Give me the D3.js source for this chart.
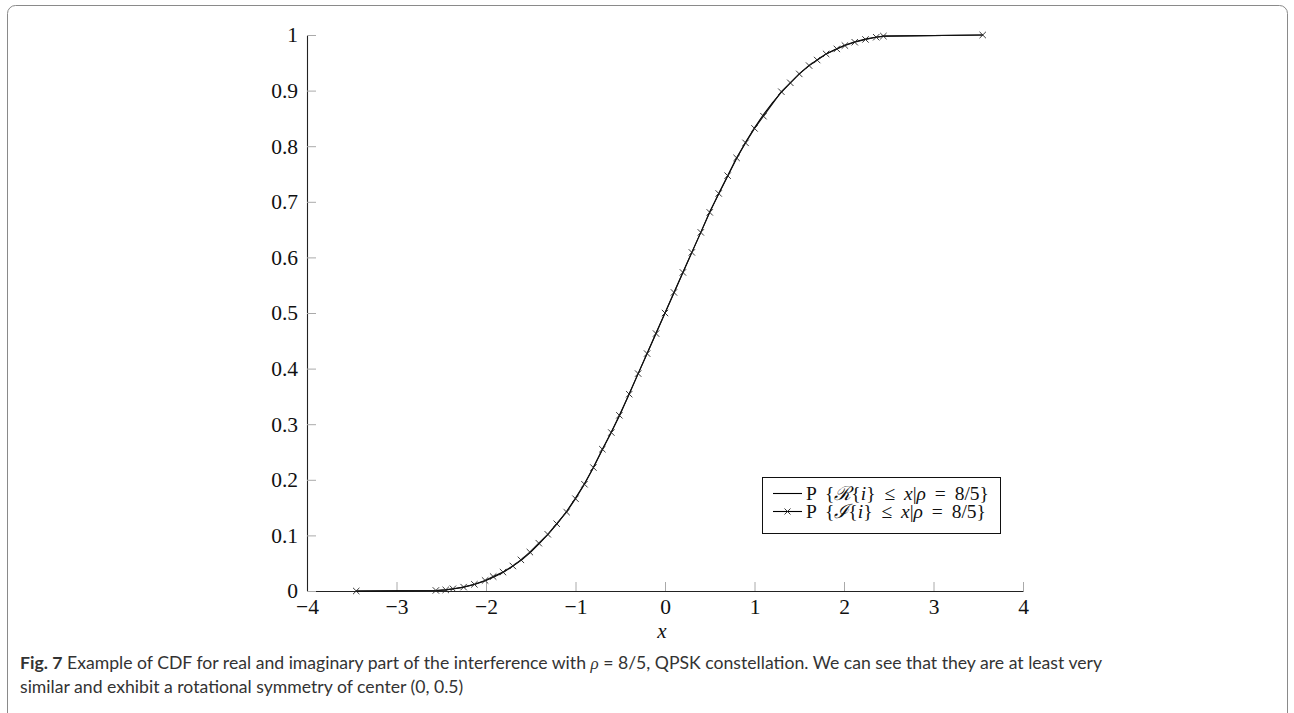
<!DOCTYPE html>
<html>
<head>
<meta charset="utf-8">
<script src="https://cdn.jsdelivr.net/npm/d3@7/dist/d3.min.js"></script>
<style>
  html, body { margin: 0; padding: 0; background: #fff; }
  svg { display: block; }
</style>
</head>
<body>
<svg id="chart" width="1294" height="713"></svg>
<script>
// ---------- data ----------
const xTicks = [-4, -3, -2, -1, 0, 1, 2, 3, 4];
const yTicks = [0, 0.1, 0.2, 0.3, 0.4, 0.5, 0.6, 0.7, 0.8, 0.9, 1];

// Imaginary part (line with × markers)
const imagX = [-3.45, -2.56, -2.45, -2.37, -2.25, -2.13, -2.01, -1.92, -1.81, -1.70, -1.61, -1.51, -1.41, -1.31, -1.21,
  -1.10, -1.00, -0.90, -0.80, -0.70, -0.60, -0.51, -0.40, -0.30, -0.20, -0.10, 0.00, 0.10, 0.20, 0.30, 0.40,
  0.50, 0.60, 0.70, 0.80, 0.90, 1.00, 1.10, 1.30, 1.40, 1.50, 1.61, 1.70, 1.80, 1.92, 2.01, 2.12, 2.24, 2.36, 2.44, 3.55];
const imagY = [0.000, 0.001, 0.002, 0.004, 0.007, 0.012, 0.019, 0.026, 0.034, 0.045, 0.056, 0.070, 0.086, 0.102, 0.121,
  0.142, 0.166, 0.192, 0.222, 0.255, 0.285, 0.316, 0.354, 0.391, 0.427, 0.463, 0.500, 0.537, 0.573, 0.609, 0.645,
  0.681, 0.715, 0.747, 0.779, 0.806, 0.832, 0.854, 0.898, 0.914, 0.930, 0.945, 0.955, 0.966, 0.975, 0.981, 0.987, 0.992, 0.996, 0.998, 1.000];

// Real part (plain line)
const realX = [-3.45, -2.55, -2.45, -2.35, -2.25, -2.12, -2.00, -1.90, -1.80, -1.70, -1.60, -1.50, -1.40, -1.30, -1.20,
  -1.10, -1.00, -0.90, -0.80, -0.70, -0.60, -0.50, -0.40, -0.30, -0.20, -0.10, 0.00, 0.10, 0.20, 0.30, 0.40,
  0.50, 0.60, 0.70, 0.80, 0.90, 1.00, 1.10, 1.20, 1.30, 1.40, 1.50, 1.60, 1.70, 1.80, 1.90, 2.00, 2.12, 2.25, 2.35, 2.45, 3.55];
const realY = [0.000, 0.001, 0.002, 0.004, 0.007, 0.012, 0.019, 0.026, 0.034, 0.045, 0.056, 0.070, 0.086, 0.103, 0.122,
  0.143, 0.167, 0.193, 0.222, 0.254, 0.286, 0.318, 0.355, 0.391, 0.427, 0.464, 0.500, 0.536, 0.573, 0.609, 0.645,
  0.682, 0.714, 0.746, 0.778, 0.807, 0.833, 0.857, 0.878, 0.897, 0.914, 0.930, 0.944, 0.955, 0.966, 0.974, 0.981, 0.988, 0.993, 0.996, 0.998, 1.000];

// ---------- layout ----------
const svg = d3.select("#chart");
const plotL = 307, plotR = 1023, plotT = 35, plotB = 591;

// frame
svg.append("rect")
  .attr("x", 7.5).attr("y", 5.5).attr("width", 1280).attr("height", 740)
  .attr("rx", 8).attr("ry", 8)
  .attr("fill", "none").attr("stroke", "#8a8a8a").attr("stroke-width", 1);

const xs = d3.scaleLinear().domain([-4, 4]).range([plotL, plotR]);
const ys = d3.scaleLinear().domain([0, 1]).range([plotB, plotT]);

const serif = "'Liberation Serif', 'DejaVu Serif', serif";

// x axis
const gx = svg.append("g").attr("transform", `translate(0,${plotB})`)
  .call(d3.axisBottom(xs).tickValues(xTicks).tickSize(-9).tickSizeOuter(0).tickPadding(8)
    .tickFormat(d3.format("d")));
// y axis
const gy = svg.append("g").attr("transform", `translate(${plotL},0)`)
  .call(d3.axisLeft(ys).tickValues(yTicks).tickSize(-9).tickSizeOuter(0).tickPadding(9)
    .tickFormat(d => d === 0 ? "0" : d === 1 ? "1" : d3.format(".1f")(d)));

[gx, gy].forEach(g => {
  g.select(".domain").attr("stroke", "#222").attr("stroke-width", 1.1);
  g.selectAll(".tick line").attr("stroke", "#aaa").attr("stroke-width", 1);
  g.selectAll(".tick text").attr("font-family", serif).attr("font-size", 21.5).attr("fill", "#111");
});

// x label
svg.append("text").attr("x", 662).attr("y", 638).attr("text-anchor", "middle")
  .attr("font-family", serif).attr("font-style", "italic").attr("font-size", 21).attr("fill", "#111").text("x");

// lines
const line = d3.line().x(d => xs(d[0])).y(d => ys(d[1]));
const realData = realX.map((v, i) => [v, realY[i]]);
const imagData = imagX.map((v, i) => [v, imagY[i]]);

svg.append("path").datum(realData).attr("d", line)
  .attr("fill", "none").attr("stroke", "#000").attr("stroke-width", 1.1);
svg.append("path").datum(imagData).attr("d", line)
  .attr("fill", "none").attr("stroke", "#111").attr("stroke-width", 1.1);

const cross = (g, cx, cy, s) => {
  g.append("path")
    .attr("d", `M${cx - s},${cy - s}L${cx + s},${cy + s}M${cx - s},${cy + s}L${cx + s},${cy - s}`)
    .attr("stroke", "#222").attr("stroke-width", 0.9).attr("fill", "none");
};
const gm = svg.append("g");
imagData.forEach(d => cross(gm, xs(d[0]), ys(d[1]), 3.2));

// legend
const lg = svg.append("g");
lg.append("rect").attr("x", 762.5).attr("y", 477.5).attr("width", 238).attr("height", 56)
  .attr("fill", "#fff").attr("stroke", "#111").attr("stroke-width", 1);
lg.append("line").attr("x1", 773).attr("x2", 802).attr("y1", 493.5).attr("y2", 493.5)
  .attr("stroke", "#000").attr("stroke-width", 1.1);
lg.append("line").attr("x1", 773).attr("x2", 802).attr("y1", 511.5).attr("y2", 511.5)
  .attr("stroke", "#000").attr("stroke-width", 1.1);
cross(lg, 787.5, 511.5, 3);

function legendText(yy, letter) {
  const t = lg.append("text").attr("x", 806).attr("y", yy)
    .attr("font-family", serif).attr("font-size", 19.5).attr("fill", "#111")
    .style("white-space", "pre");
  t.append("tspan").text("P {");
  t.append("tspan").attr("font-style", "italic").text(letter);
  t.append("tspan").text("{");
  t.append("tspan").attr("font-style", "italic").text("i");
  t.append("tspan").text("} ≤ ");
  t.append("tspan").attr("font-style", "italic").text("x");
  t.append("tspan").text("|");
  t.append("tspan").attr("font-style", "italic").text("ρ");
  t.append("tspan").text(" = 8/5}");
  const w = t.node().getComputedTextLength();
  if (w > 0 && w < 188) t.attr("word-spacing", Math.min(4, (188 - w) / 5));
  return t;
}
legendText(499.5, "ℛ");
legendText(518, "ℐ");

// caption
const sans = "Lato, 'Open Sans', 'Noto Sans', sans-serif";
const c1 = svg.append("text").attr("x", 20).attr("y", 669)
  .attr("font-family", sans).attr("font-size", 15.5).attr("fill", "#333");
c1.append("tspan").attr("font-weight", "bold").text("Fig. 7");
c1.append("tspan").text(" Example of CDF for real and imaginary part of the interference with ");
c1.append("tspan").attr("font-family", serif).attr("font-style", "italic").attr("font-size", 17).text("ρ");
c1.append("tspan").text("  =  8/5, QPSK constellation. We can see that they are at least very");
const c2 = svg.append("text").attr("x", 20).attr("y", 693)
  .attr("font-family", sans).attr("font-size", 15.5).attr("fill", "#333")
  .text("similar and exhibit a rotational symmetry of center (0, 0.5)");

// fit caption width to the reference line length
const targetLen = 1084;
const len = c1.node().getComputedTextLength();
if (len > 0) {
  const fs = 15.5 * targetLen / len;
  c1.attr("font-size", fs);
  c2.attr("font-size", fs);
}
</script>
</body>
</html>
